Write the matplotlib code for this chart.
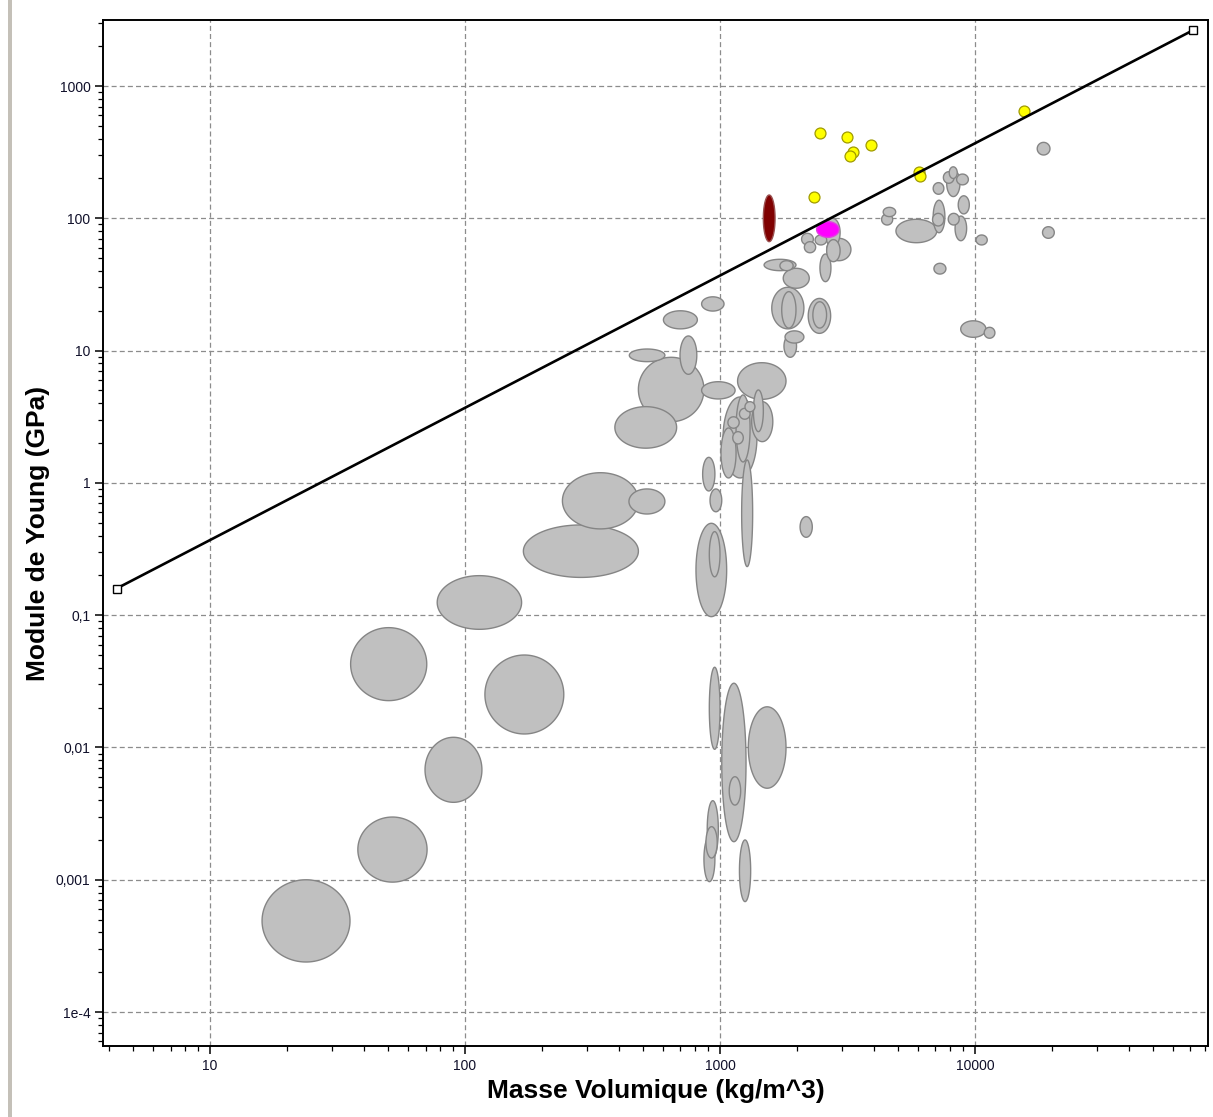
import numpy as np
import matplotlib
matplotlib.use("Agg")
import matplotlib.pyplot as plt
from matplotlib.ticker import FixedLocator, FixedFormatter, LogLocator, NullFormatter
from matplotlib.patches import Rectangle

plt.rcParams['font.family'] = ['Liberation Sans', 'DejaVu Sans']

# ---- Data: material property ranges (density kg/m^3, Young's modulus GPa) ----
gray_rho_lo = [16.0, 38.0, 69.7, 35.6, 119.7, 77.8, 169.4, 241, 439.5, 847, 600, 441, 697, 478.6, 387,
               847, 1172, 855, 914, 805, 908, 2061, 1216, 1028, 1331, 1352, 1009, 1156, 1074, 1122, 1192, 1253,
               908, 1016, 1291, 1087, 891, 881, 865, 1192,
               2089, 2142, 2360, 2582, 2620, 2620, 2466, 1489, 1718, 1770, 1596, 1746, 2218, 2313, 1799, 1782,
               4365, 4302, 4898, 6855, 6815, 6855, 7517, 7925, 7744, 8473, 8594, 7852, 8353, 6902, 10096,
               17540, 18400, 8790, 10870]
gray_rho_hi = [35.4, 71.0, 116.5, 70.8, 244, 166.7, 478.6, 478.6, 608, 1037, 815, 608, 811, 865, 676,
               1146, 1815, 955, 1016, 1062, 1000, 2301, 1343, 1396, 1611, 1479, 1156, 1312, 1189, 1234, 1312, 1371,
               1000, 1265, 1815, 1205, 985, 975, 955, 1319,
               2323, 2372, 2620, 2958, 3262, 2958, 2723, 1986, 1936, 2239, 2133, 1986, 2716, 2618, 2133, 1996,
               4886, 4756, 7078, 7619, 7549, 7549, 8279, 8518, 8732, 9418, 9499, 8671, 9273, 7691, 11170,
               19680, 20460, 11040, 11970]
gray_E_lo = [2.39e-4, 9.6e-4, 3.85e-3, 0.0226, 0.01265, 0.0782, 0.193, 0.449, 0.582, 19.9, 14.6, 8.25, 6.62, 2.90, 1.83,
             4.31, 4.28, 0.869, 0.605, 0.0975, 0.195, 0.388, 0.233, 1.09, 2.05, 2.44, 1.09, 1.44, 2.59, 1.97, 3.03, 3.45,
             0.00969, 0.00194, 0.00492, 0.00367, 0.00146, 0.00146, 9.68e-4, 6.84e-4,
             62.9, 54.9, 62.9, 61.0, 47.8, 47.0, 33.2, 40.2, 40.2, 29.6, 14.6, 14.8, 13.5, 14.8, 11.4, 8.90,
             103, 89, 65.4, 77.8, 87.5, 152, 184, 200, 146, 179, 108, 89, 67.7, 37.9, 62.9,
             301, 70.6, 12.6, 12.4]
gray_E_hi = [1.0e-3, 2.98e-3, 0.01194, 0.0805, 0.0500, 0.199, 0.481, 1.194, 0.90, 25.5, 20.0, 10.28, 12.9, 8.90, 3.77,
             5.82, 8.10, 1.56, 0.90, 0.495, 0.428, 0.556, 1.49, 4.46, 4.11, 5.04, 2.60, 4.62, 3.16, 2.44, 3.66, 4.11,
             0.0404, 0.0306, 0.0203, 0.00601, 0.00396, 0.00252, 0.00212, 0.0020,
             77.0, 66.6, 74.8, 100, 70.6, 69.0, 53.7, 49.0, 47.8, 41.9, 30.1, 27.9, 24.8, 23.4, 14.1, 13.1,
             121, 108, 98.3, 137, 109, 186, 225, 245, 232, 216, 148, 109, 104, 45.7, 74.8,
             375, 86.4, 16.8, 15.0]

# highlighted materials
maroon_rho = [1479, 1644]
maroon_E = [66.6, 150]
magenta_rho = [2393, 2931]
magenta_E = [71.8, 94.3]

# yellow point materials
yellow_rho = [2466, 3157, 3899, 3311, 3236, 2344, 6051, 6083, 15560]
yellow_E = [441, 409, 358, 319, 296, 144, 225, 209, 650]

# guide line (E / rho = const)
guide_rho = [4.3, 71600]
guide_E = [0.159, 2640]

x_ticks = [10, 100, 1000, 10000]
x_ticklabels = ["10", "100", "1000", "10000"]
y_ticks = [1e-4, 1e-3, 1e-2, 1e-1, 1, 10, 100, 1000]
y_ticklabels = ["1e-4", "0,001", "0,01", "0,1", "1", "10", "100", "1000"]


def ellipse_curve(xlo, xhi, ylo, yhi, n=160):
    lx0, lx1 = np.log10(xlo), np.log10(xhi)
    ly0, ly1 = np.log10(ylo), np.log10(yhi)
    cx, cy = (lx0 + lx1) / 2, (ly0 + ly1) / 2
    ax_, ay_ = (lx1 - lx0) / 2, (ly1 - ly0) / 2
    t = np.linspace(0, 2 * np.pi, n)
    return 10 ** (cx + ax_ * np.cos(t)), 10 ** (cy + ay_ * np.sin(t))


W, H = 1213, 1117
fig = plt.figure(figsize=(W / 100, H / 100), dpi=100)
ax = fig.add_axes([103 / W, 1 - 1046 / H, 1105 / W, 1026 / H])
ax.set_xscale('log')
ax.set_yscale('log')
ax.set_xlim(3.805, 81990)
ax.set_ylim(5.54e-5, 3155)

# gray ellipses, largest first
areas = [(np.log10(h) - np.log10(l)) * 255 * (np.log10(eh) - np.log10(el)) * 132.3
         for l, h, el, eh in zip(gray_rho_lo, gray_rho_hi, gray_E_lo, gray_E_hi)]
order = np.argsort(areas)[::-1]
for i in order:
    xs, ys = ellipse_curve(gray_rho_lo[i], gray_rho_hi[i], gray_E_lo[i], gray_E_hi[i])
    ax.fill(xs, ys, facecolor='#c0c0c0', edgecolor='#858585', linewidth=1.0, zorder=3)

xs, ys = ellipse_curve(maroon_rho[0], maroon_rho[1], maroon_E[0], maroon_E[1])
ax.fill(xs, ys, facecolor='#800000', edgecolor='#9a5050', linewidth=1.0, zorder=4)
xs, ys = ellipse_curve(magenta_rho[0], magenta_rho[1], magenta_E[0], magenta_E[1])
ax.fill(xs, ys, facecolor='#ff00ff', edgecolor='#e040e0', linewidth=1.0, zorder=4)

ax.scatter(yellow_rho, yellow_E, s=62, facecolor='#ffff00', edgecolor='#a09a00',
           linewidth=0.9, zorder=5)

ax.plot(guide_rho, guide_E, color='black', linewidth=1.9, zorder=6)
ax.plot(guide_rho, guide_E, linestyle='none', marker='s', markersize=6,
        markerfacecolor='white', markeredgecolor='black', markeredgewidth=1.0, zorder=7)

# ticks
ax.xaxis.set_major_locator(FixedLocator(x_ticks))
ax.xaxis.set_major_formatter(FixedFormatter(x_ticklabels))
ax.xaxis.set_minor_locator(LogLocator(base=10, subs=np.arange(2, 10), numticks=20))
ax.xaxis.set_minor_formatter(NullFormatter())
ax.yaxis.set_major_locator(FixedLocator(y_ticks))
ax.yaxis.set_major_formatter(FixedFormatter(y_ticklabels))
ax.yaxis.set_minor_locator(LogLocator(base=10, subs=np.arange(2, 10), numticks=20))
ax.yaxis.set_minor_formatter(NullFormatter())
ax.tick_params(which='major', direction='out', length=6, width=1.1, labelsize=10,
               labelcolor='#10102a', pad=3)
ax.tick_params(which='minor', direction='out', length=3.5, width=0.9)

ax.grid(True, which='major', linestyle=(0, (4, 2.5)), color='#8c8c8c', linewidth=0.9, zorder=0)
ax.set_axisbelow(True)

for s in ax.spines.values():
    s.set_linewidth(1.4)
    s.set_color('black')

ax.set_xlabel('Masse Volumique (kg/m^3)', fontsize=19, fontweight='bold', labelpad=5)
ax.set_ylabel('Module de Young (GPa)', fontsize=19, fontweight='bold', labelpad=4)

# window-border strip at far left
fig.patches.append(Rectangle((8 / W, 0), 4 / W, 1, transform=fig.transFigure,
                             facecolor='#c4c0b8', edgecolor='none'))

fig.savefig('out.png', dpi=100)
